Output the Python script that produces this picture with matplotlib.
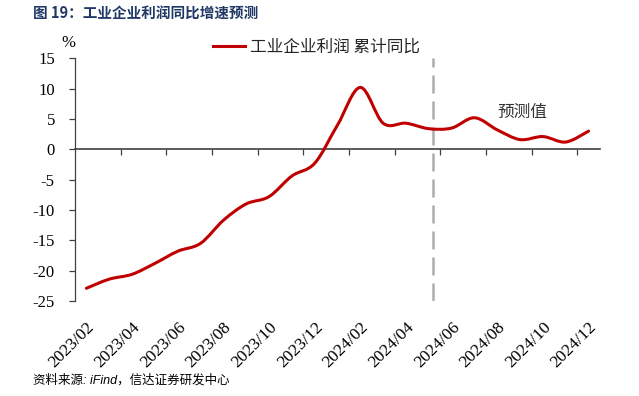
import matplotlib.pyplot as plt
from matplotlib.path import Path
from matplotlib.patches import PathPatch

# 工业企业利润 累计同比 (%), 2023/02 - 2024/12, 2024/06 之后为预测值
months = ["2023/02", "2023/03", "2023/04", "2023/05", "2023/06", "2023/07",
          "2023/08", "2023/09", "2023/10", "2023/11", "2023/12", "2024/01",
          "2024/02", "2024/03", "2024/04", "2024/05", "2024/06", "2024/07",
          "2024/08", "2024/09", "2024/10", "2024/11", "2024/12"]
profit_yoy = [-22.9, -21.4, -20.6, -18.8, -16.8, -15.5, -11.7, -9.0, -7.8,
              -4.4, -2.3, 4.0, 10.2, 4.3, 4.3, 3.4, 3.5, 5.2, 3.2, 1.6,
              2.1, 1.2, 3.0]
tick_labels = months[::2]
forecast_split = 15.2
series_name = "工业企业利润 累计同比"

RED = "#C00000"
AXIS = "#404040"
CJK = ["Noto Sans CJK SC", "DejaVu Sans"]

plt.rcParams["font.family"] = ["Liberation Serif", "Noto Sans CJK SC"]
plt.rcParams["axes.unicode_minus"] = False


def smooth_path(xs, ys):
    # excel-like smoothed line: bezier segments, control points from neighbours
    pts = list(zip(xs, ys))
    n = len(pts)
    verts = [pts[0]]
    codes = [Path.MOVETO]
    for i in range(n - 1):
        p0 = pts[max(i - 1, 0)]
        p1 = pts[i]
        p2 = pts[i + 1]
        p3 = pts[min(i + 2, n - 1)]
        c1 = (p1[0] + (p2[0] - p0[0]) / 6, p1[1] + (p2[1] - p0[1]) / 6)
        c2 = (p2[0] - (p3[0] - p1[0]) / 6, p2[1] - (p3[1] - p1[1]) / 6)
        verts += [c1, c2, p2]
        codes += [Path.CURVE4] * 3
    return Path(verts, codes)


fig = plt.figure(figsize=(6.39, 3.96), dpi=100)
ax = fig.add_axes([75 / 639, 95 / 396, 525 / 639, 242.7 / 396])

x = list(range(len(months)))
line = PathPatch(smooth_path(x, profit_yoy), facecolor="none", edgecolor=RED,
                 lw=2.2, capstyle="round", joinstyle="round", zorder=3)
ax.add_patch(line)

ax.axvline(forecast_split, color="#ADADAD", lw=1.8, dashes=(7.2, 3.2), zorder=2)

ax.set_xlim(-0.5, len(months) - 0.5)
ax.set_ylim(-25, 15)
ax.set_yticks(range(-25, 16, 5))
ax.tick_params(axis="y", direction="out", length=4.5, width=0.9, color=AXIS,
               labelsize=12, pad=10, labelcolor="#000000")

ax.spines["top"].set_visible(False)
ax.spines["right"].set_visible(False)
ax.spines["left"].set_color(AXIS)
ax.spines["left"].set_linewidth(0.9)
ax.spines["bottom"].set_position(("data", 0))
ax.spines["bottom"].set_color(AXIS)
ax.spines["bottom"].set_linewidth(1.2)
ax.set_xticks([i + 1.5 for i in range(0, len(months) - 2, 2)])
ax.tick_params(axis="x", direction="out", length=4, width=0.9, color=AXIS,
               labelbottom=False)

# category labels sit at the bottom of the plot, not on the zero line
sec = ax.secondary_xaxis("bottom")
sec.set_xticks(range(0, len(months), 2))
sec.set_xticklabels(tick_labels, rotation=45, ha="right",
                    rotation_mode="anchor", fontsize=12.5)
sec.tick_params(length=0, pad=13)
sec.spines["bottom"].set_visible(False)

ax.text(19.1, 6.1, "预测值", family=CJK, fontsize=12, color="#333333",
        ha="center", va="center")

fig.legend([plt.Line2D([], [], color=RED, lw=2.2)], [series_name],
           loc="center left", bbox_to_anchor=(213 / 639, 1 - 47 / 396),
           frameon=False, borderpad=0, borderaxespad=0, handlelength=1.9,
           handletextpad=0.35, prop={"family": CJK, "size": 12},
           labelcolor="#262626")

fig.text(68 / 639, 1 - 43 / 396, "%", ha="center", va="center", fontsize=12)
fig.text(33 / 639, 1 - 14 / 396, "图 19：工业企业利润同比增速预测",
         family=CJK, fontsize=10.5, fontweight="bold", color="#1F3864",
         ha="left", va="center")
fig.text(33 / 639, 1 - 380 / 396, "资料来源: iFind，信达证券研发中心",
         family=["Liberation Sans", "Noto Sans CJK SC"], style="italic",
         fontsize=9, color="#000000", ha="left", va="center")

fig.savefig("out.png", dpi=100)
